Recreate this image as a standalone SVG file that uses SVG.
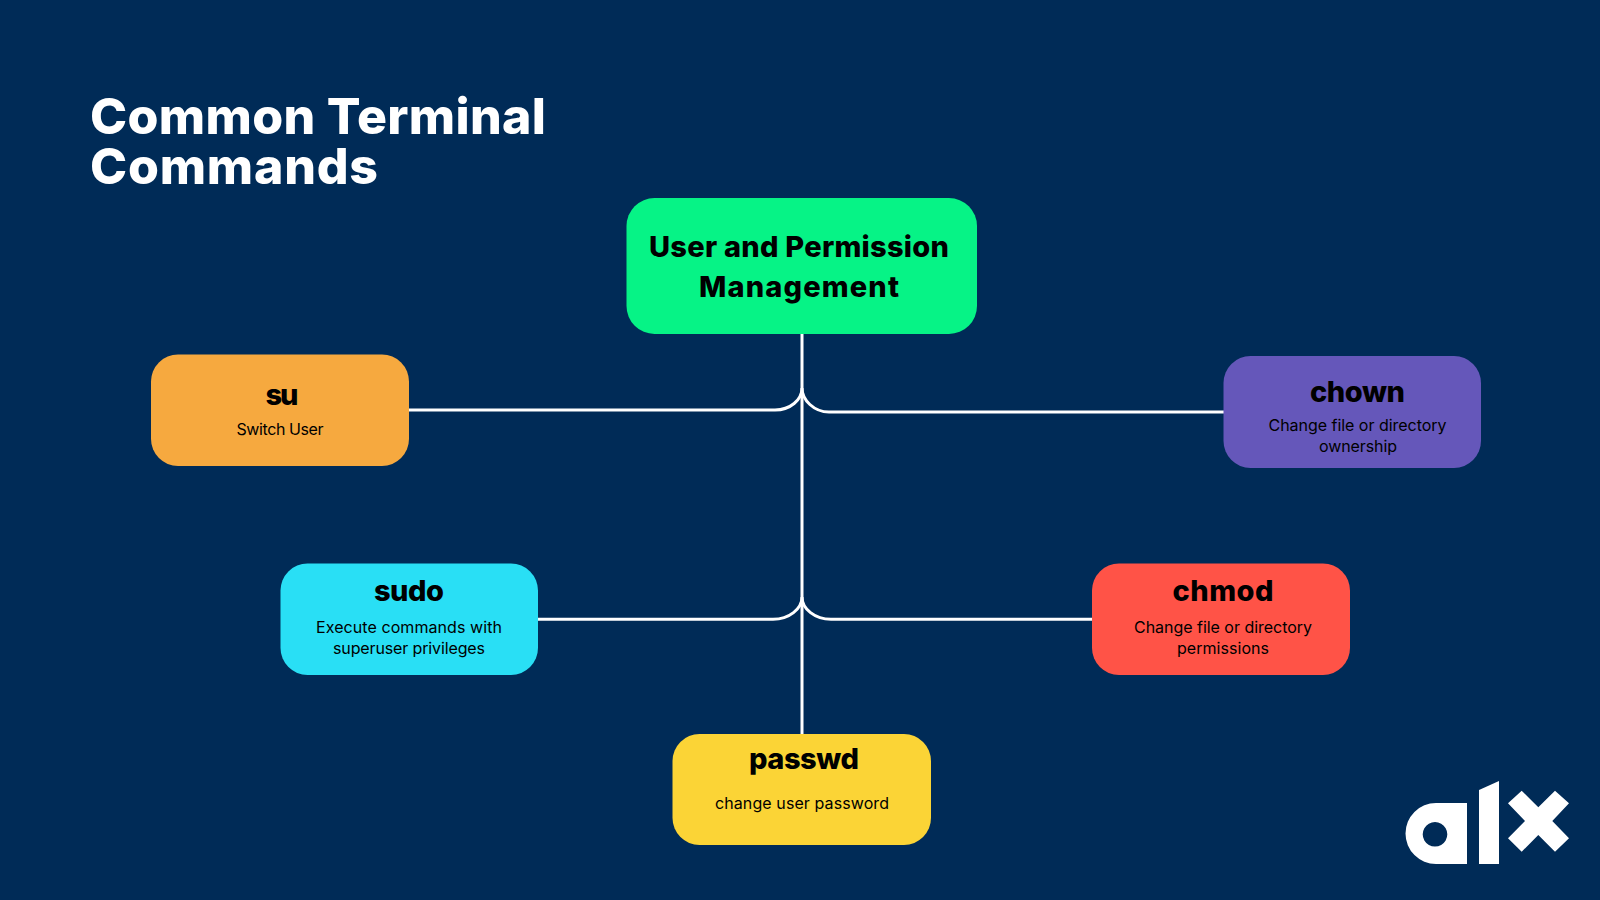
<svg xmlns="http://www.w3.org/2000/svg" width="1600" height="900" viewBox="0 0 1600 900">
<style>
text{font-family:"Inter","Liberation Sans",sans-serif;text-anchor:middle;fill:#000}
.t{font-weight:800;font-size:50px;fill:#fff;text-anchor:start}
.h{font-weight:800;font-size:29px}
.m{font-weight:800;font-size:29px}
.d{font-size:16px;font-weight:400}
.c{fill:none;stroke:#fff;stroke-width:3}
</style>
<rect width="1600" height="900" fill="#002b57"/>
<g id="title"><text class="t" x="90" y="134" textLength="456">Common Terminal</text><text class="t" x="90" y="184" textLength="288">Commands</text></g>
<g id="connectors">
<path class="c" d="M802 334V734"/>
<path class="c" d="M409 410H775C790 410 802 400 802 388C802 400 814 412 829 412H1224"/>
<path class="c" d="M538 619.300H773C789 619.300 802 609 802 597C802 609 815 619.300 831 619.300H1092"/>
</g>
<g id="root"><rect x="626.500" y="198" width="350.500" height="136" rx="28" fill="#06f386"/><text class="m" x="799" y="257" textLength="300">User and Permission</text><text class="m" x="799" y="297" textLength="200">Management</text></g>
<g id="su"><rect x="151" y="354.500" width="258" height="111.500" rx="27" fill="#f6a93f"/><text class="h" x="282" y="405" textLength="33">su</text><text class="d" x="280" y="435" textLength="87">Switch User</text></g>
<g id="chown"><rect x="1223.500" y="356" width="257.500" height="112" rx="27" fill="#6557ba"/><text class="h" x="1357.500" y="402" textLength="95">chown</text><text class="d" x="1357.500" y="431" textLength="178">Change file or directory</text><text class="d" x="1358" y="452" textLength="78">ownership</text></g>
<g id="sudo"><rect x="280.500" y="563.500" width="257.500" height="111.500" rx="27" fill="#29dff5"/><text class="h" x="409" y="601" textLength="70">sudo</text><text class="d" x="409" y="633" textLength="186">Execute commands with</text><text class="d" x="409" y="654" textLength="152">superuser privileges</text></g>
<g id="chmod"><rect x="1092" y="563.500" width="258" height="111.500" rx="27" fill="#ff5347"/><text class="h" x="1223" y="601" textLength="101">chmod</text><text class="d" x="1223" y="633" textLength="178">Change file or directory</text><text class="d" x="1223" y="654" textLength="92">permissions</text></g>
<g id="passwd"><rect x="672.500" y="734" width="258.500" height="111" rx="27" fill="#fbd436"/><text class="h" x="804" y="769" textLength="110">passwd</text><text class="d" x="802" y="809" textLength="174">change user password</text></g>
<g id="logo" fill="#fff">
<path fill-rule="evenodd" d="M1436 803H1467V864H1436A30.500 30.500 0 0 1 1436 803ZM1435 822a12.300 12.300 0 1 0 .01 0Z"/>
<path d="M1479 790L1499 781V864H1479Z"/>
<path d="M1508 803.300L1521.700 790.700L1538.300 807.300L1555 790.700L1569 803.300L1552.300 821L1569 838.300L1555 851.700L1538.300 835L1521.700 851.700L1508 838.300L1525 821Z"/>
</g>
</svg>
